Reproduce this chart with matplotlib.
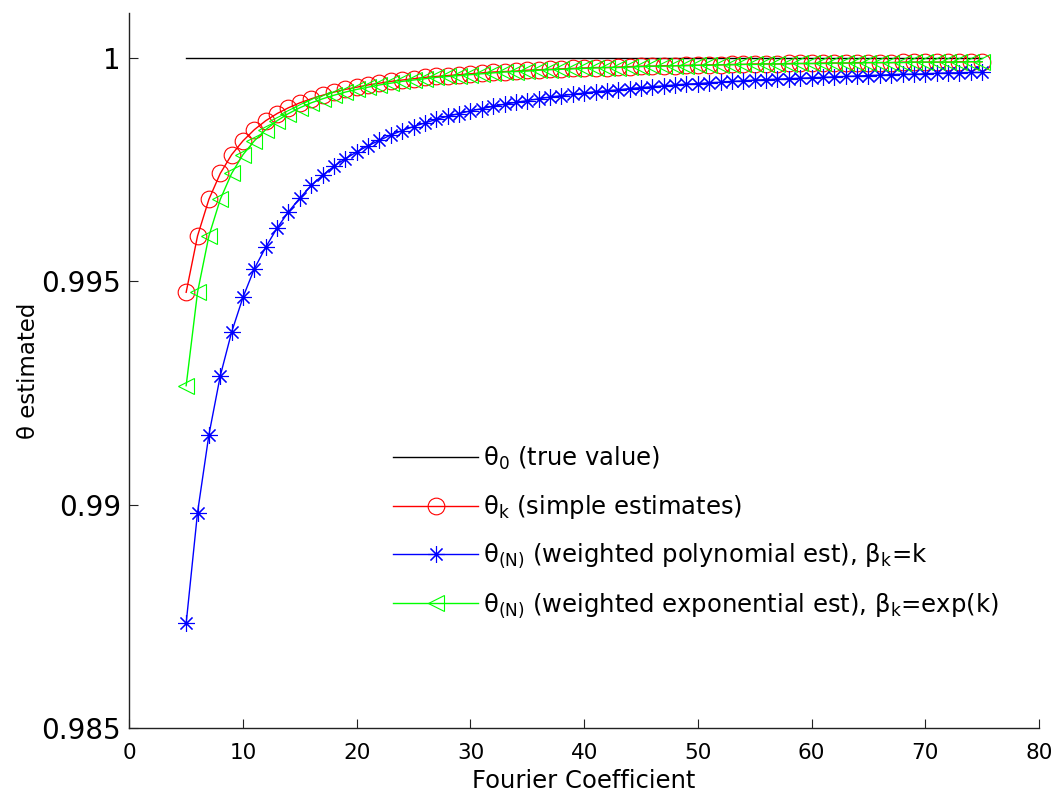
import matplotlib
matplotlib.use("Agg")
import matplotlib.pyplot as plt

k_values = list(range(5, 76))

theta_true = 1.0

theta_simple = [
    0.99475, 0.99601, 0.99683, 0.99741, 0.99783, 0.99814, 0.99839, 0.99859, 0.99875, 0.99888,
    0.99899, 0.99908, 0.99916, 0.99923, 0.99929, 0.99934, 0.99939, 0.99943, 0.99947, 0.99950,
    0.99953, 0.99956, 0.99958, 0.99960, 0.99962, 0.99964, 0.99966, 0.99968, 0.99969, 0.99970,
    0.99972, 0.99973, 0.99974, 0.99975, 0.99976, 0.99977, 0.99978, 0.99978, 0.99979, 0.99980,
    0.99981, 0.99981, 0.99982, 0.99982, 0.99983, 0.99983, 0.99984, 0.99984, 0.99985, 0.99985,
    0.99986, 0.99986, 0.99986, 0.99987, 0.99987, 0.99987, 0.99988, 0.99988, 0.99988, 0.99989,
    0.99989, 0.99989, 0.99989, 0.99990, 0.99990, 0.99990, 0.99990, 0.99990, 0.99991, 0.99991,
    0.99991,
]

theta_poly = [
    0.98734, 0.98982, 0.99156, 0.99288, 0.99386, 0.99464, 0.99528, 0.99576, 0.99619, 0.99655,
    0.99686, 0.99714, 0.99737, 0.99757, 0.99774, 0.99789, 0.99803, 0.99815, 0.99827, 0.99837,
    0.99846, 0.99854, 0.99862, 0.99869, 0.99875, 0.99881, 0.99886, 0.99891, 0.99896, 0.99900,
    0.99904, 0.99908, 0.99912, 0.99915, 0.99918, 0.99921, 0.99924, 0.99926, 0.99928, 0.99931,
    0.99933, 0.99935, 0.99937, 0.99939, 0.99941, 0.99942, 0.99944, 0.99945, 0.99947, 0.99948,
    0.99950, 0.99951, 0.99952, 0.99953, 0.99954, 0.99955, 0.99956, 0.99957, 0.99958, 0.99959,
    0.99960, 0.99961, 0.99962, 0.99963, 0.99963, 0.99964, 0.99965, 0.99966, 0.99966, 0.99967,
    0.99967,
]

theta_exp = [
    0.99266, 0.99475, 0.99601, 0.99683, 0.99741, 0.99783, 0.99814, 0.99839, 0.99859, 0.99875,
    0.99888, 0.99899, 0.99908, 0.99916, 0.99923, 0.99929, 0.99934, 0.99939, 0.99943, 0.99947,
    0.99950, 0.99953, 0.99956, 0.99958, 0.99960, 0.99962, 0.99964, 0.99966, 0.99968, 0.99969,
    0.99970, 0.99972, 0.99973, 0.99974, 0.99975, 0.99976, 0.99977, 0.99978, 0.99978, 0.99979,
    0.99980, 0.99981, 0.99981, 0.99982, 0.99982, 0.99983, 0.99983, 0.99984, 0.99984, 0.99985,
    0.99985, 0.99986, 0.99986, 0.99986, 0.99987, 0.99987, 0.99987, 0.99988, 0.99988, 0.99988,
    0.99989, 0.99989, 0.99989, 0.99989, 0.99990, 0.99990, 0.99990, 0.99990, 0.99990, 0.99991,
    0.99991,
]

x_ticks = [0, 10, 20, 30, 40, 50, 60, 70, 80]
y_ticks = [0.985, 0.99, 0.995, 1.0]
y_tick_labels = ["0.985", "0.99", "0.995", "1"]

labels = [
    r"$\mathrm{\theta}_{0}$ (true value)",
    r"$\mathrm{\theta}_{\mathrm{k}}$ (simple estimates)",
    r"$\mathrm{\theta}_{\mathrm{(N)}}$ (weighted polynomial est), $\mathrm{\beta}_{\mathrm{k}}$=k",
    r"$\mathrm{\theta}_{\mathrm{(N)}}$ (weighted exponential est), $\mathrm{\beta}_{\mathrm{k}}$=exp(k)",
]

plt.rcParams["font.family"] = ["DejaVu Sans"]
plt.rcParams["mathtext.fontset"] = "dejavusans"

fig = plt.figure(figsize=(10.56, 8.01), dpi=100)
ax = fig.add_axes([129.3 / 1056, 73 / 801, (1039 - 129.3) / 1056, (728 - 13) / 801])

ms = 12
mew = 0.8
ax.plot([k_values[0], k_values[-1]], [theta_true, theta_true], color="black", lw=1.0, label=labels[0])
ax.plot(k_values, theta_simple, color=(1, 0, 0), lw=1.0, marker="o", ms=ms, mew=mew,
        mfc="none", label=labels[1])
ax.plot(k_values, theta_poly, color=(0, 0, 1), lw=1.0, marker=(8, 2, 0), ms=ms, mew=mew,
        label=labels[2])
ax.plot(k_values, theta_exp, color=(0, 1, 0), lw=1.0, marker="<", ms=ms, mew=mew,
        mfc="none", label=labels[3])

ax.set_xlim(0, 80)
ax.set_ylim(0.985, 1.001)
ax.set_xticks(x_ticks)
ax.set_yticks(y_ticks)
ax.set_yticklabels(y_tick_labels)

for side in ("top", "right"):
    ax.spines[side].set_visible(False)
for side in ("left", "bottom"):
    ax.spines[side].set_linewidth(1.0)
    ax.spines[side].set_color("#222222")

ax.tick_params(axis="both", direction="in", length=6.5, width=0.8, color="#222222")
ax.tick_params(axis="y", labelsize=20, pad=6)
ax.tick_params(axis="x", labelsize=15.5, pad=11)

ax.set_xlabel("Fourier Coefficient", fontsize=17.5, labelpad=4)
ax.set_ylabel("θ estimated", fontsize=16.5, labelpad=0.8)

leg = ax.legend(loc="upper left", bbox_to_anchor=(393 / 1056, 1 - 445 / 801),
                bbox_transform=fig.transFigure, frameon=False, fontsize=17.5,
                handlelength=3.5, handletextpad=0.2, labelspacing=0.86,
                borderpad=0, borderaxespad=0, numpoints=1)

fig.savefig("out.png", dpi=100)
